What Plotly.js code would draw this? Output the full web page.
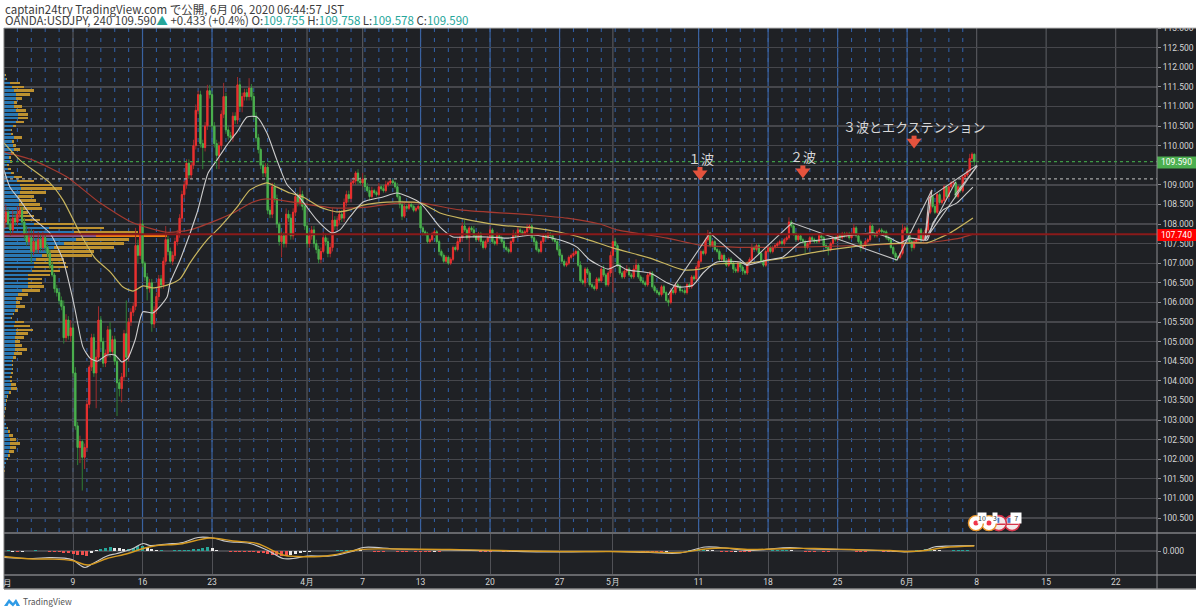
<!DOCTYPE html>
<html><head><meta charset="utf-8">
<script src="https://cdn.plot.ly/plotly-3.0.1.min.js"></script>
<style>html,body{margin:0;padding:0;background:#fff;overflow:hidden}#c{width:1200px;height:613px}</style>
</head><body><div id="c"></div>
<script>
// ---------- DATA ----------
const firstOpen = 107.90;
const closes = [
108.05,108.30,108.00,107.85,108.15,108.05,108.25,108.35,108.05,107.75,107.55,107.65,107.30,107.55,107.35,107.60,107.40,107.65,107.40,107.25,106.95,106.70,106.35,106.25,106.05,105.90,105.10,105.55,105.15,105.35,
104.20,102.85,102.30,102.45,102.05,102.30,103.40,104.35,105.10,104.20,104.60,105.55,105.00,104.45,104.70,105.30,104.75,105.05,104.50,103.95,103.80,104.10,105.20,104.60,105.50,105.75,105.90,107.45,107.20,108.00,
107.00,106.65,106.35,106.50,105.45,105.80,106.15,106.60,106.45,107.05,107.60,107.30,107.05,107.20,107.55,107.75,108.15,108.75,109.00,109.55,109.25,109.50,110.00,110.90,111.30,110.05,109.95,110.50,111.40,111.30,
110.50,110.05,109.75,110.00,110.80,111.25,110.40,110.25,110.20,110.75,110.65,111.55,111.00,111.25,111.35,111.25,111.47,111.25,110.75,110.20,109.90,109.50,109.30,109.45,108.35,108.25,108.95,108.65,108.00,107.55,
107.70,107.50,108.25,108.15,107.70,108.30,108.70,108.55,108.75,108.45,107.95,107.50,107.70,107.85,107.50,107.35,107.10,107.30,107.65,107.55,107.25,107.40,108.10,107.95,108.10,108.25,108.15,108.55,108.75,108.65,
109.05,109.10,109.30,109.10,109.05,109.15,108.95,108.85,108.70,108.85,108.80,108.75,108.95,108.90,108.85,109.00,109.05,109.10,109.05,108.95,108.70,108.50,108.20,108.45,108.40,108.50,108.45,108.35,108.40,108.45,
107.90,107.80,107.75,107.55,107.60,107.75,107.80,107.55,107.30,107.20,107.05,107.15,107.00,107.10,107.40,107.35,107.55,107.65,107.95,107.85,107.65,107.90,107.85,107.70,107.60,107.75,107.55,107.40,107.55,107.65,
107.85,107.55,107.50,107.70,107.65,107.55,107.40,107.35,107.30,107.55,107.75,107.70,107.85,107.80,107.75,107.80,107.90,107.95,107.65,107.55,107.35,107.30,107.55,107.70,107.65,107.75,107.70,107.60,107.55,107.35,
107.20,107.05,106.95,107.00,107.15,107.20,107.25,107.30,106.95,106.55,106.50,106.85,106.75,106.45,106.40,106.35,106.60,106.55,106.85,106.70,106.45,106.75,107.20,107.55,107.45,106.95,106.75,106.65,106.80,106.85,
106.70,106.65,106.85,106.95,106.65,106.55,106.50,106.45,106.70,106.75,106.40,106.30,106.25,106.20,106.40,106.25,106.05,106.00,106.30,106.25,106.45,106.40,106.30,106.30,106.25,106.45,106.40,106.65,106.60,106.90,
107.05,107.30,107.25,107.60,107.75,107.45,107.55,107.35,107.30,107.10,107.20,107.05,106.95,107.10,107.00,106.85,106.80,107.00,106.90,106.80,106.75,107.00,107.10,107.40,107.35,107.45,107.25,107.05,106.95,107.30,
107.40,107.30,107.40,107.45,107.50,107.55,107.50,107.60,107.65,108.05,107.95,107.75,107.60,107.70,107.60,107.55,107.40,107.50,107.65,107.60,107.55,107.55,107.70,107.65,107.45,107.40,107.35,107.50,107.65,107.60,
107.70,107.65,107.75,107.70,107.75,107.65,107.75,107.90,107.70,107.55,107.40,107.45,107.55,107.60,107.95,107.75,107.70,107.80,107.85,107.80,107.80,107.65,107.60,107.40,107.25,107.15,107.15,107.25,107.85,107.90,
107.75,107.55,107.40,107.55,107.60,107.85,107.60,107.75,107.85,108.30,108.70,108.45,108.30,108.75,108.55,108.60,108.95,108.70,108.95,109.05,109.05,108.70,108.95,108.85,109.20,109.25,109.35,109.67,109.78,109.59];
const upperWick = [
.15,.2,.1,.15,.2,.15,.2,.1,.1,.1,.2,.25,.2,.3,.1,.2,.15,.15,.1,.1,.1,.1,.05,.1,.1,.1,.15,.15,.1,.2,
.1,.15,.1,.15,.05,.1,.1,.05,.1,.1,.2,.35,.1,.1,.1,.1,.2,.1,.1,.1,.1,.1,.1,.85,.1,.1,.1,.45,.15,.6,
.1,.05,.1,.1,.1,.1,.1,.1,.1,.1,.35,.1,.1,.1,.1,.1,.1,.1,.1,.1,.1,.1,.15,.15,.1,.1,.1,.1,.15,.15,
.1,.1,.1,.1,.1,.35,.1,.1,.1,.1,.1,.2,.1,.1,.1,.1,.25,.1,.1,.1,.1,.05,.1,.1,.1,.1,.1,.1,.1,.05,
.1,.1,.15,.1,.1,.1,.1,.1,.2,.1,.1,.1,.1,.1,.1,.1,.1,.1,.15,.1,.1,.1,.3,.1,.1,.1,.1,.1,.1,.1,
.1,.1,.05,.1,.1,.15,.1,.1,.1,.1,.05,.05,.1,.05,.1,.1,.05,.05,.05,.05,.1,.1,.1,.1,.05,.05,.05,.05,.05,.05,
.05,.05,.05,.05,.05,.05,.05,.05,.05,.05,.05,.05,.05,.05,.05,.05,.1,.05,.1,.15,.05,.05,.05,.1,.05,.05,.05,.05,.05,.05,
.1,.05,.05,.1,.05,.05,.05,.05,.05,.05,.1,.05,.1,.05,.05,.05,.1,.05,.05,.05,.05,.05,.05,.05,.05,.05,.05,.05,.05,.05,
.1,.05,.05,.05,.05,.05,.05,.05,.05,.1,.05,.05,.05,.05,.05,.05,.05,.05,.05,.1,.05,.05,.1,.3,.1,.05,.05,.05,.05,.1,
.05,.05,.1,.15,.05,.05,.1,.05,.05,.05,.05,.05,.05,.05,.05,.05,.05,.05,.05,.05,.05,.05,.05,.05,.05,.05,.05,.05,.05,.05,
.05,.05,.05,.05,.1,.05,.05,.05,.05,.05,.05,.05,.05,.05,.05,.05,.05,.05,.05,.05,.05,.05,.05,.1,.05,.05,.05,.05,.05,.05,
.05,.05,.05,.05,.05,.05,.05,.05,.05,.12,.05,.05,.05,.05,.05,.05,.05,.05,.05,.05,.05,.05,.05,.05,.05,.05,.05,.05,.05,.05,
.05,.05,.05,.05,.05,.05,.05,.1,.05,.05,.05,.05,.05,.05,.1,.05,.05,.05,.05,.05,.05,.05,.05,.05,.05,.05,.05,.05,.15,.05,
.05,.05,.05,.05,.05,.05,.05,.05,.05,.05,.15,.05,.05,.05,.05,.05,.05,.05,.05,.05,.05,.05,.05,.05,.05,.05,.05,.12,.05,.02];
const lowerWick = [
.15,.15,.1,.15,.1,.1,.1,.1,.1,.15,.1,.1,.3,.1,.1,.1,.1,.1,.1,.1,.1,.05,.1,.1,.1,.1,.15,.1,.1,.15,
.1,.1,.45,.4,.85,.3,.1,.1,.1,.1,.9,.1,.2,.1,.1,.1,.15,.1,.1,.85,.2,.35,.1,.5,.1,.1,.1,.1,.2,.1,
.1,.1,.3,.1,.2,.1,.1,.1,.1,.1,.1,.1,.05,.1,.1,.1,.1,.1,.1,.1,.1,.1,.1,.1,.1,.1,.55,.1,.1,.1,
.1,.1,.35,.35,.1,.1,.1,.1,.1,.1,.1,.1,.1,.15,.1,.1,.1,.1,.1,.1,.1,.1,.1,.1,.1,.1,.1,.1,.1,.1,
.4,.1,.1,.1,.1,.1,.1,.1,.1,.1,.1,.1,.1,.1,.1,.1,.1,.1,.05,.1,.1,.1,.1,.1,.1,.1,.1,.1,.1,.1,
.1,.05,.1,.1,.05,.1,.1,.05,.1,.05,.05,.05,.05,.05,.05,.05,.05,.05,.05,.05,.05,.1,.1,.05,.05,.05,.05,.05,.05,.05,
.05,.1,.05,.05,.05,.05,.05,.05,.1,.05,.05,.05,.05,.05,.05,.05,.05,.05,.1,.05,.05,.6,.05,.05,.05,.05,.1,.05,.05,.05,
.05,.05,.05,.05,.05,.05,.05,.05,.05,.05,.05,.05,.05,.05,.05,.05,.05,.05,.05,.1,.05,.05,.05,.05,.05,.05,.05,.05,.05,.05,
.05,.05,.05,.05,.05,.05,.05,.05,.05,.05,.05,.1,.05,.05,.05,.05,.05,.05,.05,.05,.05,.05,.1,.95,.05,.05,.05,.05,.05,.05,
.05,.05,.05,.05,.05,.05,.05,.05,.05,.05,.05,.05,.05,.05,.05,.05,.05,.1,.05,.05,.05,.05,.05,.05,.05,.05,.05,.05,.05,.05,
.05,.05,.05,.05,.05,.05,.05,.05,.05,.05,.05,.05,.05,.05,.05,.1,.05,.05,.05,.1,.05,.05,.05,.05,.05,.05,.05,.05,.05,.05,
.05,.05,.05,.05,.05,.05,.05,.05,.05,.05,.05,.05,.05,.05,.05,.05,.15,.05,.05,.05,.05,.05,.05,.05,.05,.05,.15,.05,.05,.05,
.05,.05,.05,.05,.05,.05,.05,.05,.05,.05,.1,.05,.05,.05,.05,.05,.05,.05,.05,.05,.05,.05,.05,.05,.05,.1,.05,.05,.05,.05,
.05,.05,.1,.05,.05,.05,.05,.05,.05,.05,.05,.05,.05,.05,.05,.05,.05,.05,.05,.05,.05,.05,.05,.05,.05,.05,.05,.05,.05,.1];

const whiteX=[.2,2.8,7.1,12.7,20,25.7,30,30.9,34.3,37.3,40.4,44.7,48.1,51.1,53.7,56.8,60.2,64.5,70.6,71.9,76.2,83.5,88.3,92.1,96.5,100.8,105.1,109.4,113.7,118,122.4,128,135.3,141.8,145.2,149.5,155.2,163.8,169.8,179.8,188.4,194,200,208.7,217.3,228.5,240.2,247.5,253.1,260.9,265.2,269.1,279,286.4,291.9,297.6,301.9,307.9,317.9,320.9,329.5,336.4,343.8,352.4,366.6,375.3,382.6,386.9,391.2,398.6,401.2,405.5,411.5,415.8,418.4];
const whiteP=[109.38,108.94,108.61,108.15,107.77,107.08,106.06,105.81,104.86,104.58,104.5,104.66,104.66,104.48,104.58,105.04,105.76,105.73,106.14,106.5,107.08,108.28,109.3,109.63,110.02,110.35,110.73,110.73,110.32,109.63,109,108.66,108.1,107.77,107.85,108.18,108.56,108.69,108.79,108.54,107.92,107.67,107.67,107.67,107.64,107.72,107.59,107.41,107.08,106.85,106.95,106.83,106.75,106.5,106.39,106.44,106.75,107.03,107.03,106.95,107.08,107.16,107.52,107.59,107.72,107.77,107.64,107.52,107.64,107.59,108.03,108.36,108.54,108.79,108.94];
const yellowX=[.2,7.1,20,25.7,33,39.5,46,51.6,55.9,60.2,64.5,70.6,76.2,80.5,87.8,93.4,100.8,106.4,113.7,118,123.6,129.3,136.6,143.9,149.5,155.2,165.5,179.8,188.4,197,214.3,228.5,240.2,250.1,263,279,293.3,300.6,307.9,322.2,336.4,351.1,365.4,379.6,394.3,398.6,408.5,418.4];
const yellowP=[110.07,109.63,109.05,108.61,107.77,107.13,106.78,106.39,106.29,106.42,106.37,106.44,106.6,107.01,107.59,107.92,108.43,108.87,109.05,108.94,108.79,108.69,108.43,108.31,108.36,108.48,108.56,108.54,108.28,108.15,107.97,107.9,107.79,107.64,107.39,107.13,106.83,106.85,106.98,107.01,107.13,107.29,107.41,107.49,107.52,107.52,107.77,108.15];
const darkRedX=[.2,12.7,27.4,41.6,55.9,70.6,80.5,92.1,99.1,107.7,113.7,124.9,142.2,156.9,171.1,179.8,197,228.5,243.2,257.4,264.8,286.4,300.6,314.8,343.8,372.7,394.3,398.6,412.8,418.4];
const darkRedP=[109.84,109.63,109.2,108.54,108.03,107.79,107.85,108.1,108.28,108.56,108.64,108.56,108.41,108.43,108.54,108.54,108.36,108.23,108.15,108,107.85,107.64,107.46,107.41,107.41,107.46,107.52,107.52,107.64,107.74];

const waveX=[286.8,304.9,320.9,340.3,385.6,400.7,397.7,410.9,null,399.4,420.2,null,397.7,420.2,null,410.6,420.2,null,397.7,399.4];
const waveP=[106.19,107.77,106.95,108.03,107.08,108.87,107.59,109.07,null,108.66,109.5,null,107.59,109.48,null,108.74,109.48,null,107.59,108.66];

const profileLevels=[111.8,111.7,111.6,111.5,111.4,111.3,111.2,111.1,111,110.9,110.8,110.7,110.6,110.5,110.4,110.3,110.2,110.1,110,109.9,109.8,109.7,109.6,109.5,109.4,109.3,109.2,109.1,109,108.9,108.8,108.7,108.6,108.5,108.4,108.3,108.2,108.1,108,107.9,107.8,107.7,107.6,107.5,107.4,107.3,107.2,107.1,107,106.9,106.8,106.7,106.6,106.5,106.4,106.3,106.2,106.1,106,105.9,105.8,105.7,105.6,105.5,105.4,105.3,105.2,105.1,105,104.9,104.8,104.7,104.6,104.5,104.4,104.3,104.2,104.1,104,103.9,103.8,103.7,103.6,103.5,103.4,103.3,103.2,103.1,103,102.9,102.8,102.7,102.6,102.5,102.4,102.3,102.2,102.1,102,101.9,101.8,101.7];
const profileTotal=[2,3,16,20,30,26,18,13,18,22,24,24,20,12,8,9,18,10,12,16,10,7,8,5,7,10,18,30,48,58,42,30,32,36,38,24,30,36,70,100,134,163,125,120,110,90,88,60,62,64,56,46,38,38,40,36,24,18,16,21,14,10,8,20,26,29,24,20,16,18,23,18,12,9,9,9,9,8,8,12,13,7,4,3,2,1.5,1,.5,1,2,4,6,9,12,16,12,10,6,4,2,1,.5];
const profileUp=[1,2,6,8,10,12,12,10,10,12,14,14,12,9,7,7,10,8,9,10,7,5,6,3,4,7,10,13,16,17,16,14,15,15,16,13,15,18,30,45,70,92,72,60,50,44,38,32,30,30,28,24,24,24,24,18,14,12,12,12,11,9,7,11,10,12,12,11,11,11,11,10,9,8,8,8,7,6,6,7,7,5,3,2,1.5,1,.7,.4,.7,1.5,3,4,5,6,6,6,5,4,3,1.5,.7,.3];

const macdX=[.2,12.7,20,29.6,33,35.2,38.6,44.7,49,55.9,60.2,63.2,70.6,77.5,84,90.4,96.4,106.4,113.7,120.6,125,131,141,150.4,155.2,170,192.7,214.3,240.2,261.8,279,292,302.8,309.3,322.2,339.4,348,365.4,382.6,389,398,401.7,408.5,419];
const macdLine=[-.13,-.15,-.13,-.17,-.28,-.33,-.25,-.1,-.05,.05,.15,.11,.14,.17,.27,.26,.19,.15,.02,-.15,-.15,-.1,-.1,-.01,.07,.04,.02,0,-.02,-.01,-.03,-.04,.08,.07,.01,.07,.04,.03,0,-.02,.02,.08,.1,.11];
const signalX=[.2,12.7,20,29.6,36.5,44.7,53.7,60.2,66.2,76.2,89.1,99.1,109.4,120.6,126.7,136.6,142.2,153.9,170,192.7,214.3,240.2,261.8,279,292,302.8,311.4,322.2,339.4,350.2,365.4,382.6,389,398,406.3,419];
const signalLine=[-.11,-.16,-.16,-.19,-.28,-.15,-.05,.05,.11,.14,.26,.2,.15,-.08,-.11,-.11,-.08,.03,.04,.03,.01,-.01,-.01,-.02,-.03,.04,.06,.03,.05,.05,.03,.01,-.01,.01,.07,.1];
const macdHist=[.01,.02,-.01,-.02,-.01,.01,.01,.02,.01,.01,-.01,-.01,-.02,-.03,-.04,
-.05,-.07,-.08,-.09,-.04,.02,.05,.07,.08,.07,.06,.04,.05,.07,.1,
.11,.09,.05,.02,.02,.01,.01,.02,.02,.03,.03,.05,.05,.07,.08,
.06,.02,.01,.01,-.01,-.01,-.01,-.01,-.01,-.02,-.03,-.04,-.05,-.07,-.08,
-.09,-.1,-.07,-.05,-.03,-.02,-.01,.01,.01,.01,.01,.01,.02,.02,.03,
.03,.03,.02,.01,.01,-.01,-.01,-.01,.01,.01,-.01,-.01,-.01,.01,-.01,
-.02,-.02,-.02,-.01,-.01,.01,.01,.01,.01,.01,.01,.01,.01,-.01,-.01,
-.01,.01,.01,-.01,-.01,-.01,-.01,.01,-.01,.01,.01,-.01,-.01,-.01,-.01,
-.01,-.02,-.01,-.01,-.02,-.02,-.01,-.01,-.01,.01,.01,.01,.01,-.01,-.01,
-.01,.01,.01,-.01,-.01,-.01,-.01,-.02,-.01,.01,.01,.01,.01,.02,.03,
.04,.04,.03,.02,.01,-.01,-.01,-.02,-.01,-.01,-.01,-.01,.01,.01,.01,
.01,.02,.02,.03,.03,.02,.01,.01,-.01,-.01,-.01,.01,-.01,-.01,.01,
.01,.01,.01,.01,-.01,-.01,-.01,.01,.01,.01,-.01,-.01,-.02,-.02,.01,
.01,.01,.02,.03,.04,.04,.03,.02,.01,.01,.02,.02,.02,.02,.01];

const tickBars=[30,60,90,131,155,180,210,240,263,300,330,360,390,420,450,480];
const tickTexts=['9','16','23','4月','7','13','20','27','5月','11','18','25','6月','8','15','22'];
const weekBars=[60,90,180,210,240,300,330,360,390];
const priceTicks=[113,112.5,112,111.5,111,110.5,110,109.5,109,108.5,108,107.5,107,106.5,106,105.5,105,104.5,104,103.5,103,102.5,102,101.5,101,100.5];
const hiddenTick=109.5;
const lastPrice=109.59, pocPrice=107.74, dottedPrice=109.15;
const arrowX=[300.6,345,393], arrowTop=[109.39,109.43,110.19], arrowTip=[109.28,109.33,110.09];
const jpX=[425.3,419.7], usX=[435.3,429.6], eventP=100.37;

// ---------- DERIVED ----------
const opens=closes.map((c,i)=>i?closes[i-1]:firstOpen);
const bars=closes.map((_,i)=>i);
const bodyTop=closes.map((c,i)=>Math.max(c,opens[i])), bodyBot=closes.map((c,i)=>Math.min(c,opens[i]));
const highs=bodyTop.map((v,i)=>v+upperWick[i]), lows=bodyBot.map((v,i)=>v-lowerWick[i]);
const histX=macdHist.map((_,i)=>i*2);
const histColor=macdHist.map((v,i)=>{const p=i?macdHist[i-1]:0;
  if(Math.abs(v)<Math.abs(p)) return '#e8e8e8'; return v>=0?'#26a69a':'#ef5350';});
const maxTotal=Math.max(...profileTotal);
const goldColors=profileTotal.map(v=>v===maxTotal?'#ee7d14':'#bd9130');
const blueColors=profileTotal.map(v=>v===maxTotal?'#8a5a8c':'#2a78b4');

const W=1200,H=613,L=4,R=1157,T=28,B=532,SB=575;
const px=x=>x/W, py=y=>1-y/H;
const xRange=[(L-3.5)/2.317,(R-3.5)/2.317];
const yRange=[113-(B-28)/39.2,113.0];

// ---------- TRACES ----------
const traces=[
 {type:'bar',orientation:'h',x:profileTotal,y:profileLevels,xaxis:'x',yaxis:'y',width:.065,marker:{color:goldColors,line:{width:0}},hoverinfo:'skip'},
 {type:'bar',orientation:'h',x:profileUp,y:profileLevels,xaxis:'x',yaxis:'y',width:.065,marker:{color:blueColors,line:{width:0}},hoverinfo:'skip'},
 {type:'candlestick',x:bars,open:opens,high:highs,low:lows,close:closes,xaxis:'x2',yaxis:'y',whiskerwidth:0,
  increasing:{line:{color:'#9c2b2d',width:1},fillcolor:'#9c2b2d'},decreasing:{line:{color:'#2f7d35',width:1},fillcolor:'#2f7d35'},hoverinfo:'skip'},
 {type:'candlestick',x:bars,open:opens,high:bodyTop,low:bodyBot,close:closes,xaxis:'x2',yaxis:'y',whiskerwidth:0,
  increasing:{line:{color:'#e8302f',width:1},fillcolor:'#e8302f'},decreasing:{line:{color:'#4cb04f',width:1},fillcolor:'#4cb04f'},hoverinfo:'skip'},
 {type:'scatter',mode:'lines',x:darkRedX,y:darkRedP,xaxis:'x2',yaxis:'y',line:{color:'#a53a30',width:1.2,shape:'spline',smoothing:.6},hoverinfo:'skip'},
 {type:'scatter',mode:'lines',x:yellowX,y:yellowP,xaxis:'x2',yaxis:'y',line:{color:'#c9b65f',width:1.2,shape:'spline',smoothing:.6},hoverinfo:'skip'},
 {type:'scatter',mode:'lines',x:whiteX,y:whiteP,xaxis:'x2',yaxis:'y',line:{color:'#cdcdcd',width:1.1,shape:'spline',smoothing:.6},hoverinfo:'skip'},
 {type:'scatter',mode:'lines',x:waveX,y:waveP,xaxis:'x2',yaxis:'y',line:{color:'#c6c6c6',width:1.1},hoverinfo:'skip'},
 {type:'scatter',mode:'markers',x:arrowX,y:arrowTop,xaxis:'x2',yaxis:'y',marker:{symbol:'square',size:5,color:'#e5533d'},hoverinfo:'skip'},
 {type:'scatter',mode:'markers',x:arrowX,y:arrowTip,xaxis:'x2',yaxis:'y',marker:{symbol:'triangle-down',size:13,color:'#e5533d'},hoverinfo:'skip'},
 // economic-calendar bubbles
 {type:'scatter',mode:'markers',x:usX,y:usX.map(()=>eventP),xaxis:'x2',yaxis:'y',marker:{symbol:'circle',size:15,color:'#f3e9ea',line:{color:'#d6344a',width:1.6}},hoverinfo:'skip'},
 {type:'scatter',mode:'markers',x:usX,y:usX.map(()=>eventP-.03),xaxis:'x2',yaxis:'y',marker:{symbol:'line-ew',size:9,line:{color:'#d6344a',width:1.5}},hoverinfo:'skip'},
 {type:'scatter',mode:'markers',x:usX.map(v=>v-.9),y:usX.map(()=>eventP+.07),xaxis:'x2',yaxis:'y',marker:{symbol:'square',size:5,color:'#4a78c8'},hoverinfo:'skip'},
 {type:'scatter',mode:'markers',x:jpX,y:jpX.map(()=>eventP),xaxis:'x2',yaxis:'y',marker:{symbol:'circle',size:15,color:'#ffffff',line:{color:'#e8952a',width:1.4}},hoverinfo:'skip'},
 {type:'scatter',mode:'markers',x:jpX,y:jpX.map(()=>eventP),xaxis:'x2',yaxis:'y',marker:{symbol:'circle',size:5,color:'#f0354a'},hoverinfo:'skip'},
 // MACD pane
 {type:'bar',x:histX,y:macdHist,xaxis:'x3',yaxis:'y2',width:1.3,marker:{color:histColor,line:{width:0}},hoverinfo:'skip'},
 {type:'scatter',mode:'lines',x:macdX,y:macdLine,xaxis:'x3',yaxis:'y2',line:{color:'#c9c9c9',width:1.2,shape:'spline'},hoverinfo:'skip'},
 {type:'scatter',mode:'lines',x:signalX,y:signalLine,xaxis:'x3',yaxis:'y2',line:{color:'#d69a20',width:1.4,shape:'spline'},hoverinfo:'skip'}
];

// ---------- SHAPES ----------
const paperRect=(x0,y0,x1,y1,c,layer)=>({type:'rect',xref:'paper',yref:'paper',x0:px(x0),x1:px(x1),y0:py(y1),y1:py(y0),fillcolor:c,line:{width:0},layer:layer||'below'});
const paperLine=(x0,y0,x1,y1,c,w)=>({type:'line',xref:'paper',yref:'paper',x0:px(x0),x1:px(x1),y0:py(y0),y1:py(y1),line:{color:c,width:w},layer:'above'});
const shapes=[paperRect(4,28,1196,589,'#1f2125')];
const vLine=(b,c,w,dash)=>({type:'line',xref:'x2',yref:'paper',x0:b,x1:b,y0:py(B),y1:py(T),layer:'below',line:{color:c,width:w,dash:dash}});
for(let d=6;d<=414;d+=6) shapes.push(vLine(d,'#2f5da3',1.1,'4px,6px'));
tickBars.filter(b=>!weekBars.includes(b)).forEach(b=>shapes.push(vLine(b,'#55565b',1.2,'solid')));
weekBars.forEach(b=>shapes.push(vLine(b,'#3a62a0',1.2,'solid')));
const levelLine=(p,c,w,dash)=>({type:'line',xref:'paper',yref:'y',x0:px(L),x1:px(R),y0:p,y1:p,layer:'above',line:{color:c,width:w,dash:dash}});
shapes.push(levelLine(lastPrice,'#3f9a46',1.2,'dot'),levelLine(dottedPrice,'#a6a6a6',1.4,'dot'),levelLine(pocPrice,'#8a1a1a',2,'solid'));
shapes.push(paperRect(1157,156.5,1196,168.5,'#4caf50','above'),paperRect(1157,229,1196,241,'#ff0000','above'));
shapes.push(paperRect(1158,20,1200,28,'#ffffff','above'));
shapes.push(paperLine(4,28,1196,28,'#b9b9b9',1),paperLine(4,533,1196,533,'#66676b',2),paperLine(4,575,1196,575,'#66676b',2),
  paperLine(4,589,1196,589,'#8a8a8a',1.5),paperLine(4,28,4,589,'#7a7a7a',1),paperLine(1157,28,1157,589,'#8d8e92',1));
const logo=[[4,606],[9,599],[13,603],[16,599],[20,606],[16.5,606],[15.6,603.6],[13,606.6],[9,603],[7.5,606]];
shapes.push({type:'path',xref:'paper',yref:'paper',layer:'above',fillcolor:'#2f9be6',line:{width:0},
  path:'M'+logo.map(p=>px(p[0])+','+py(p[1])).join(' L')+' Z'});

// ---------- TEXT ----------
const JP='"Noto Sans CJK JP","Noto Sans",sans-serif';
const note=(text,x,y,size,color,anchor,extra)=>Object.assign({xref:'paper',yref:'paper',x:px(x),y:py(y),text,showarrow:false,xanchor:anchor||'left',yanchor:'middle',
  font:{family:JP,size:size,color:color},borderpad:0},extra||{});
const teal=s=>'<span style="color:#26a69a">'+s+'</span>';
const tagFont={family:'Roboto,sans-serif',size:8.5,color:'#ffffff'};
const annotations=[
 note('captain24try TradingView.com で公開, 6月 06, 2020 06:44:57 JST',4,9.5,11.5,'#3c3c3c'),
 note('OANDA:USDJPY, 240 109.590'+teal('▲')+' +0.433 (+0.4%) O:'+teal('109.755')+' H:'+teal('109.758')+' L:'+teal('109.578')+' C:'+teal('109.590'),4,20.5,11.5,'#3c3c3c'),
 note('１波',701,158,13,'#d8d8d8','center'),
 note('２波',803,157,13,'#d8d8d8','center'),
 note('３波とエクステンション',914,127,13,'#d8d8d8','center'),
 note('109.590',1176.5,162.5,8.5,'#ffffff','center',{font:tagFont}),
 note('107.740',1176.5,235,8.5,'#ffffff','center',{font:tagFont}),
 note('月',7,582,8.5,'#d0d0d0','center'),
 note('TradingView',22,601,8.5,'#555555'),
 note('10',982,518,7,'#333','center',{bgcolor:'#ffffff'}),
 note('3',995,518,7,'#333','center',{bgcolor:'#ffffff'}),
 note('&nbsp;&nbsp;7&nbsp;&nbsp;',1016,518,7,'#333','center',{bgcolor:'#ffffff'})
];

const grid='#46474c';
const axFont={family:'Roboto,sans-serif',size:8.5,color:'#d6d6d6'};
const layout={
 width:W,height:H,margin:{l:0,r:0,t:0,b:0},paper_bgcolor:'#ffffff',plot_bgcolor:'#1f2125',
 showlegend:false,barmode:'overlay',bargap:0,hovermode:false,
 xaxis:{domain:[px(L),px(R)],range:[0,R-L],visible:false,fixedrange:true,anchor:'y'},
 xaxis2:{domain:[px(L),px(R)],overlaying:'x',anchor:'y',range:xRange,tickmode:'array',tickvals:tickBars,ticktext:tickTexts,showticklabels:false,ticks:'',
   showgrid:false,zeroline:false,rangeslider:{visible:false},fixedrange:true},
 xaxis3:{domain:[px(L),px(R)],anchor:'y2',range:xRange,tickmode:'array',tickvals:tickBars,ticktext:tickTexts,tickangle:0,ticks:'',ticklen:0,
   showgrid:true,gridcolor:'#505156',gridwidth:1,zeroline:false,rangeslider:{visible:false},fixedrange:true,tickfont:axFont,side:'bottom'},
 yaxis:{domain:[py(B),py(T)],anchor:'x',side:'right',range:yRange,tickmode:'array',tickvals:priceTicks,ticktext:priceTicks.map(v=>v===hiddenTick?'':v.toFixed(3)),tickfont:axFont,ticks:'outside',ticklen:3,tickcolor:'#8d8e92',
   gridcolor:grid,gridwidth:1.4,zeroline:false,fixedrange:true},
 yaxis2:{domain:[py(SB),py(534)],anchor:'x3',side:'right',range:[-.48,.34],tickmode:'array',tickvals:[0],ticktext:['0.000'],tickfont:axFont,ticks:'outside',ticklen:3,tickcolor:'#8d8e92',
   gridcolor:grid,gridwidth:1.4,zeroline:false,fixedrange:true},
 shapes,annotations
};
Plotly.newPlot('c',traces,layout,{displayModeBar:false,staticPlot:true});
</script></body></html>
